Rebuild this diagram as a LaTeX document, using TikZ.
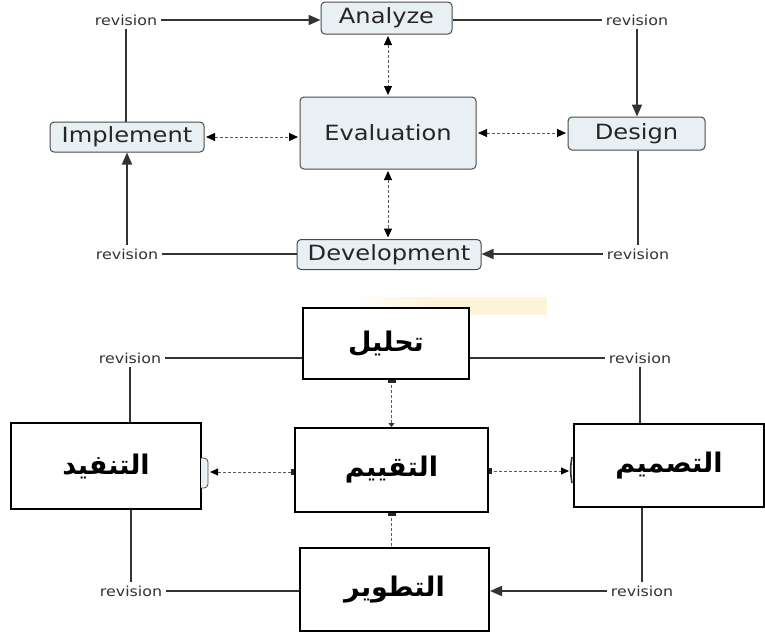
\documentclass[tikz,border=0pt]{standalone}
\usepackage{fontspec}
\setmainfont{DejaVu Sans}
\newfontfamily\latfont[FakeStretch=1.15]{DejaVu Sans}
\newfontfamily\arabicfont[Script=Arabic]{DejaVu Sans}
\TeXXeTstate=1
\usetikzlibrary{arrows.meta,calc}

\definecolor{boxfill}{HTML}{E8F0F4}
\definecolor{boxline}{HTML}{4A4A4A}
\definecolor{conncol}{HTML}{333333}
\definecolor{dashcol}{HTML}{5A5A5A}
\definecolor{smudge}{HTML}{FEF4DA}

\begin{document}
\begin{tikzpicture}[x=1pt,y=-1pt,
 topbox/.style={draw=boxline, line width=1pt, fill=boxfill, rounded corners=4pt, inner sep=0pt,
   font=\latfont\fontsize{21}{24}\selectfont, text=black!85},
 arbox/.style={draw=black, line width=2pt, fill=white, inner sep=0pt,
   font=\arabicfont\bfseries\fontsize{27}{30}\selectfont},
 revlabel/.style={font=\latfont\fontsize{13.8}{16}\selectfont, text=black!80, inner xsep=3.5pt, inner ysep=3pt},
 conline/.style={draw=conncol, line width=1.8pt},
 conarrow/.style={conline, -{Triangle[length=12pt,width=10pt]}},
 dashline/.style={draw=dashcol, line width=0.9pt, dash pattern=on 3pt off 2pt},
 dasharrow/.style={dashline, {Triangle[length=9pt,width=8pt,color=black]}-{Triangle[length=9pt,width=8pt,color=black]},
   shorten <=1.5pt, shorten >=1.5pt},
]
\useasboundingbox (0,0) rectangle (765,633);
\fill[white] (0,0) rectangle (765,633);

% ---------------- top diagram ----------------
\node[topbox, minimum width=131, minimum height=32] (analyze) at (386.5,18) {Analyze};
\node[topbox, minimum width=137, minimum height=33] (design) at (636.5,133.5) {Design};
\node[topbox, minimum width=176, minimum height=72] (evaluation) at (388,133) {Evaluation};
\node[topbox, minimum width=154, minimum height=30] (implement) at (127,137) {Implement};
\node[topbox, minimum width=184, minimum height=30] (development) at (389,254.5) {Development};

\node[revlabel] (revTL) at (126,20) {revision};
\node[revlabel] (revTR) at (637,20) {revision};
\node[revlabel] (revBL) at (127,254) {revision};
\node[revlabel] (revBR) at (638,254) {revision};

\draw[conarrow] (revTL.east) -- (revTL.east -| analyze.west);
\draw[conline] (revTL.south) -- (revTL.south |- implement.north);
\draw[conline] (analyze.east |- revTR) -- (revTR.west);
\draw[conarrow] (revTR.south) -- (revTR.south |- design.north);
\draw[conline] (revBR.north |- design.south) -- (revBR.north);
\draw[conarrow] (revBR.west) -- (revBR.west -| development.east);
\draw[conline] (revBL.east) -- (revBL.east -| development.west);
\draw[conarrow] (revBL.north) -- (revBL.north |- implement.south);

\draw[dasharrow] (evaluation.north |- analyze.south) -- (evaluation.north);
\draw[dasharrow] (evaluation.south) -- (evaluation.south |- development.north);
\draw[dasharrow] (implement.east) -- (implement.east -| evaluation.west);
\draw[dasharrow] (evaluation.east) -- (evaluation.east -| design.west);

% ---------------- bottom diagram ----------------
\shade[left color=white, right color=smudge] (350,297) rectangle (430,315);
\fill[smudge] (430,297) rectangle (547,315);

\node[arbox, minimum width=166, minimum height=71] (tahlil) at (386,343.5) {\beginR تحليل\endR};
\node[arbox, minimum width=190, minimum height=86] (tanfid) at (106,466) {\beginR التنفيد\endR};
\node[arbox, minimum width=193, minimum height=84] (taqyim) at (391.5,470) {\beginR التقييم\endR};
\node[arbox, minimum width=190, minimum height=83] (tasmim) at (669,465.5) {\beginR التصميم\endR};
\node[arbox, minimum width=189, minimum height=83] (tatwir) at (394.5,589.5) {\beginR التطوير\endR};

\node[revlabel] (rev2TL) at (130,358) {revision};
\node[revlabel] (rev2TR) at (640,358) {revision};
\node[revlabel] (rev2BL) at (131,591) {revision};
\node[revlabel] (rev2BR) at (642,591) {revision};

\draw[conline] (rev2TL.east) -- (rev2TL.east -| tahlil.west);
\draw[conline] (rev2TL.south) -- (rev2TL.south |- tanfid.north);
\draw[conline] (tahlil.east |- rev2TR) -- (rev2TR.west);
\draw[conline] (rev2TR.south) -- (rev2TR.south |- tasmim.north);
\draw[conline] (rev2BR.north |- tasmim.south) -- (rev2BR.north);
\draw[conarrow] (rev2BR.west) -- (rev2BR.west -| tatwir.east);
\draw[conline] (rev2BL.east) -- (rev2BL.east -| tatwir.west);
\draw[conline] (rev2BL.north) -- (rev2BL.north |- tanfid.south);

% remnants of the old boxes
\draw[fill=boxfill, draw=boxline, line width=0.8pt]
  (201,458) -- (204,458) to[out=0,in=90] (208,462) -- (208,484) to[out=-90,in=0] (204,488) -- (201,488);
\coordinate (brk1) at (210,472);
\draw[black!80, line width=1.6pt] (572,457) to[out=-100,in=100] (572,483);
\coordinate (brk2) at (569,471);

\draw[dashline, {Triangle[length=8pt,width=7pt,color=black]}-] (brk1) -- (brk1 -| taqyim.west);
\fill[black!85] ($(brk1 -| taqyim.west)+(-3,-3)$) rectangle ++(3,6);
\draw[dashline, -{Triangle[length=8pt,width=7pt,color=black]}] (brk2 -| taqyim.east) -- (brk2);
\fill[black!85] ($(brk2 -| taqyim.east)+(0,-3)$) rectangle ++(3,6);

\draw[dashline, -{Triangle[length=4pt,width=6pt,color=black!80]}] (taqyim.north |- tahlil.south) -- (taqyim.north);
\fill[black!85] ($(taqyim.north |- tahlil.south)+(-4,0)$) rectangle ++(8,2.5);
\draw[dashline] (taqyim.south) -- (taqyim.south |- tatwir.north);
\fill[black!85] ($(taqyim.south)+(-4,0)$) rectangle ++(8,2.5);
\end{tikzpicture}
\end{document}
